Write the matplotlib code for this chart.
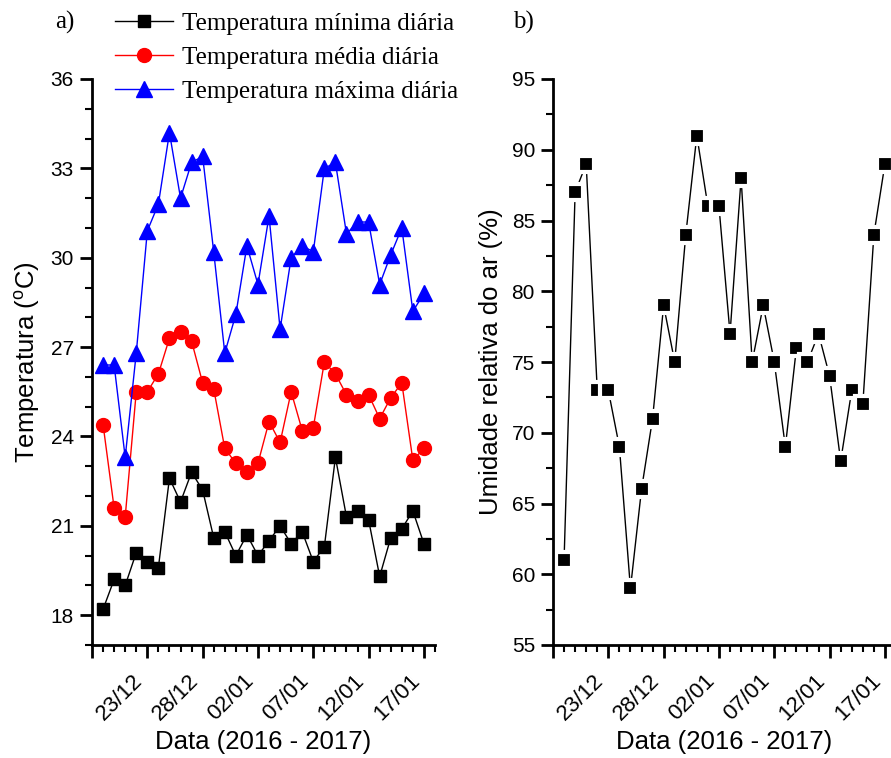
import pandas as pd
import matplotlib
matplotlib.use('Agg')
import matplotlib.pyplot as plt
import matplotlib.dates as mdates
from matplotlib.ticker import MultipleLocator, FixedLocator

plt.rcParams['font.family'] = ['Liberation Sans', 'DejaVu Sans']
plt.rcParams['mathtext.fontset'] = 'custom'
plt.rcParams['mathtext.rm'] = 'Liberation Sans'
plt.rcParams['mathtext.it'] = 'Liberation Sans'

# daily series, 19/12/2016 to 17/01/2017
dias = pd.date_range('2016-12-19', '2017-01-17', freq='D')

t_min = [18.2, 19.2, 19.0, 20.1, 19.8, 19.6, 22.6, 21.8, 22.8, 22.2,
         20.6, 20.8, 20.0, 20.7, 20.0, 20.5, 21.0, 20.4, 20.8, 19.8,
         20.3, 23.3, 21.3, 21.5, 21.2, 19.3, 20.6, 20.9, 21.5, 20.4]
t_med = [24.4, 21.6, 21.3, 25.5, 25.5, 26.1, 27.3, 27.5, 27.2, 25.8,
         25.6, 23.6, 23.1, 22.8, 23.1, 24.5, 23.8, 25.5, 24.2, 24.3,
         26.5, 26.1, 25.4, 25.2, 25.4, 24.6, 25.3, 25.8, 23.2, 23.6]
t_max = [26.4, 26.4, 23.3, 26.8, 30.9, 31.8, 34.2, 32.0, 33.2, 33.4,
         30.2, 26.8, 28.1, 30.4, 29.1, 31.4, 27.6, 30.0, 30.4, 30.2,
         33.0, 33.2, 30.8, 31.2, 31.2, 29.1, 30.1, 31.0, 28.2, 28.8]
umidade = [61, 87, 89, 73, 73, 69, 59, 66, 71, 79,
           75, 84, 91, 86, 86, 77, 88, 75, 79, 75,
           69, 76, 75, 77, 74, 68, 73, 72, 84, 89]

rotulos = ['Temperatura mínima diária', 'Temperatura média diária',
           'Temperatura máxima diária']

# date axis: major every 5 days, minor daily
x_ini, x_fim = pd.Timestamp('2016-12-18'), pd.Timestamp('2017-01-18')
major_dias = pd.date_range(x_ini, periods=7, freq='5D')
major_txt = [''] + [d.strftime('%d/%m') for d in major_dias[1:]]

fig = plt.figure(figsize=(8.91, 7.58), dpi=100)
bot, alt, larg = 1 - 645 / 758, 566 / 758, 343 / 891
ax1 = fig.add_axes([92 / 891, bot, larg, alt])
ax2 = fig.add_axes([553 / 891, bot, larg, alt])


def estilo(ax):
    for s in ['top', 'right']:
        ax.spines[s].set_visible(False)
    for s in ['left', 'bottom']:
        ax.spines[s].set_linewidth(2)
    ax.set_xlim(x_ini, x_fim)
    ax.xaxis.set_major_locator(FixedLocator(mdates.date2num(major_dias)))
    ax.xaxis.set_major_formatter(plt.FixedFormatter(major_txt))
    ax.xaxis.set_minor_locator(mdates.DayLocator())
    ax.tick_params(which='major', direction='out', length=9, width=2,
                   labelsize=15, pad=4)
    ax.tick_params(which='minor', direction='out', length=5, width=1.5)
    ax.tick_params(axis='x', which='major', pad=9, labelsize=16)
    for lab in ax.get_xticklabels():
        lab.set_rotation(45)
        lab.set_ha('right')
        lab.set_va('top')
    ax.set_xlabel('Data (2016 - 2017)', fontsize=18.5, labelpad=4)


# a) temperatures
ax1.plot(dias, t_min, '-s', color='black', lw=1, ms=8, label=rotulos[0])
ax1.plot(dias, t_med, '-o', color='#ff0000', lw=1, ms=10, label=rotulos[1])
ax1.plot(dias, t_max, '-^', color='#0000ff', lw=1, ms=11.5, label=rotulos[2])
estilo(ax1)
ax1.set_ylim(17, 36)
ax1.set_yticks([18, 21, 24, 27, 30, 33, 36])
ax1.yaxis.set_minor_locator(MultipleLocator(1))
ax1.set_ylabel('Temperatura ($^{\\mathrm{o}}$C)', fontsize=18.5, labelpad=6)

# b) relative humidity, white ring leaves a gap between line and symbol
ax2.plot(dias, umidade, '-s', color='black', lw=1, ms=11,
         mfc='black', mec='white', mew=3)
estilo(ax2)
ax2.set_ylim(55, 95)
ax2.yaxis.set_major_locator(MultipleLocator(5))
ax2.yaxis.set_minor_locator(MultipleLocator(2.5))
ax2.set_ylabel('Umidade relativa do ar (%)', fontsize=18.5, labelpad=6)

serif = ['Liberation Serif', 'DejaVu Serif']
fig.legend(loc='upper left', bbox_to_anchor=(100 / 891, 1.003), frameon=False,
           prop={'family': serif, 'size': 18}, handlelength=2.3,
           handletextpad=0.4, labelspacing=0.45, borderaxespad=0.2)
fig.text(55 / 891, 1 - 22 / 758, 'a)', family=serif, fontsize=18, va='center')
fig.text(513 / 891, 1 - 22 / 758, 'b)', family=serif, fontsize=18, va='center')

plt.savefig('out.png', dpi=100)
